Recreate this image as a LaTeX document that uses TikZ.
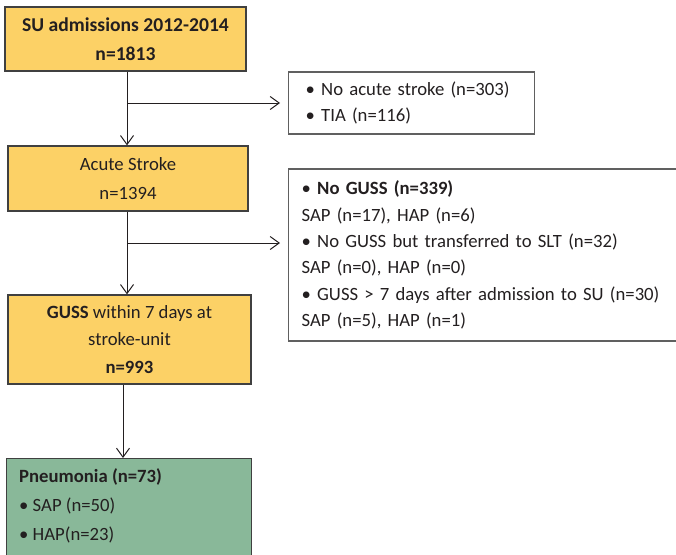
\documentclass[tikz,border=0pt]{standalone}
\usepackage{fontspec}
\setmainfont{Carlito}
\usetikzlibrary{arrows.meta}
\definecolor{boxorange}{RGB}{252,209,102}
\definecolor{boxgreen}{RGB}{137,184,153}
\definecolor{edgegray}{RGB}{64,64,64}
\definecolor{sidegray}{RGB}{96,96,96}
\definecolor{inkgray}{RGB}{35,31,32}

\begin{document}
\begin{tikzpicture}[x=1pt,y=1pt,
		flowbox/.style={draw=edgegray,line width=1.3pt,fill=boxorange,align=center,inner sep=0pt,
			text=inkgray,font=\fontsize{18.7}{29}\selectfont},
		sidebox/.style={draw=sidegray,line width=1.3pt,fill=white,align=left,inner ysep=0pt,
			text=inkgray,font=\fontsize{18.7}{26.4}\selectfont},
		flowarrow/.style={draw=inkgray,line width=1pt,-{Straight Barb[length=9pt,width=13pt,line width=1pt]}}]
		\useasboundingbox (0,0) rectangle (676,-554);
		% main column
		\node[flowbox,minimum width=241pt,minimum height=64pt,font=\fontsize{19.6}{29}\selectfont] (b1) at (125.5,-39)
			{\textbf{SU admissions 2012-2014}\\\textbf{n=1813}};
		\node[flowbox,minimum width=240pt,minimum height=65pt] (b2) at (128,-178.5)
			{Acute Stroke\\n=1394};
		\node[flowbox,minimum width=243pt,minimum height=89pt,font=\fontsize{18.7}{27.5}\selectfont] (b3) at (129.5,-339.5)
			{\textbf{GUSS} within 7 days at\\stroke-unit\\\textbf{n=993}};
		\node[flowbox,fill=boxgreen,anchor=north west,minimum width=245pt,minimum height=130pt] (b4) at (6,-458) {};
		\node[anchor=north west,align=left,inner sep=0pt,text=inkgray,font=\fontsize{18.7}{29}\selectfont] (b4t)
			at ([xshift=13pt,yshift=-10pt]b4.north west)
			{\textbf{Pneumonia (n=73)}\\\textbullet{} SAP (n=50)\\\textbullet{} HAP(n=23)};
		% excluded
		\node[sidebox,anchor=west,inner xsep=17pt,text width=212pt,minimum height=62pt] (r1) at (288,-103)
			{\textbullet{} No acute stroke (n=303)\\\textbullet{} TIA (n=116)};
		\node[sidebox,anchor=west,inner xsep=13pt,text width=400pt,minimum height=172pt] (r2) at (288,-255)
			{\textbullet{} \textbf{No GUSS (n=339)}\\SAP (n=17), HAP (n=6)\\
			\textbullet{} No GUSS but transferred to SLT (n=32)\\SAP (n=0), HAP (n=0)\\
			\textbullet{} GUSS > 7 days after admission to SU (n=30)\\SAP (n=5), HAP (n=1)};
		\coordinate (j1) at (127,-103);
		\coordinate (j2) at (127,-243);
		\coordinate (j3) at (123,-420);
		\draw[flowarrow] (b1.south -| j1) -- (b2.north -| j1);
		\draw[flowarrow] (j1) -- ([xshift=-8pt]r1.west);
		\draw[flowarrow] (b2.south -| j2) -- (b3.north -| j2);
		\draw[flowarrow] (j2) -- ([xshift=-8pt]r2.west |- j2);
		\draw[flowarrow] (b3.south -| j3) -- (b4.north -| j3);
	\end{tikzpicture}
\end{document}
